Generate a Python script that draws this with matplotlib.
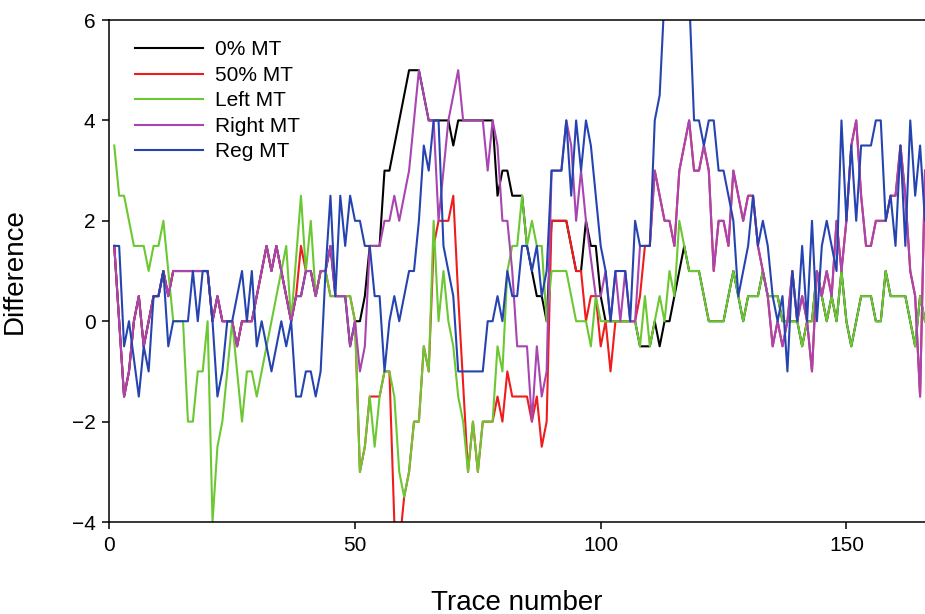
import matplotlib
matplotlib.use('Agg')
import matplotlib.pyplot as plt
import numpy as np

plt.rcParams['font.family'] = ['Liberation Sans', 'DejaVu Sans']

# trace numbers 1..166
trace = list(range(1, 167))

# 0% MT (black)
mt0 = [1.5, 0, -1.5, -1.0, 0, 0.5, -0.5, 0, 0.5, 0.5,
       1.0, 0.5, 1.0, 1.0, 1.0, 1.0, 1.0, 1.0, 1.0, 1.0,
       0, 0.5, 0, 0, 0, -0.5, 0, 0, 0, 0.5,
       1.0, 1.5, 1.0, 1.5, 1.0, 0.5, 0, 0.5, 0.5, 1.0,
       1.0, 0.5, 1.0, 1.0, 1.5, 0.5, 0.5, 0.5, -0.5, 0,
       0, 0.5, 1.5, 1.5, 1.5, 3.0, 3.0, 3.5, 4.0, 4.5,
       5.0, 5.0, 5.0, 4.5, 4.0, 4.0, 4.0, 4.0, 4.0, 3.5,
       4.0, 4.0, 4.0, 4.0, 4.0, 4.0, 4.0, 4.0, 2.5, 3.0,
       3.0, 2.5, 2.5, 2.5, 1.5, 1.0, 0.5, 0.5, 0, 2.0,
       2.0, 2.0, 2.0, 1.5, 1.0, 1.0, 2.0, 1.5, 1.5, 0.5,
       0, 0, 0, 0, 0, 0, 0, -0.5, -0.5, -0.5,
       0, -0.5, 0, 0, 0.5, 1.0, 1.5, 1.0, 1.0, 1.0,
       0.5, 0, 0, 0, 0, 0.5, 1.0, 0.5, 0, 0.5,
       0.5, 0.5, 1.0, 0.5, 0.5, 0.5, 0, 0, 0, 0,
       -0.5, 0, 0, 1.0, 0.5, 0, 0.5, 0, 1.0, 0,
       -0.5, 0, 0.5, 0.5, 0.5, 0, 0, 1.0, 0.5, 0.5,
       0.5, 0.5, 0, -0.5, 0.5, 0]

# 50% MT (red)
mt50 = [1.5, 0, -1.5, -1.0, 0, 0.5, -0.5, 0, 0.5, 0.5,
        1.0, 0.5, 1.0, 1.0, 1.0, 1.0, 1.0, 1.0, 1.0, 1.0,
        0, 0.5, 0, 0, 0, -0.5, 0, 0, 0, 0.5,
        1.0, 1.5, 1.0, 1.5, 1.0, 0.5, 0, 0.5, 1.5, 1.0,
        1.0, 0.5, 1.0, 1.0, 0.5, 0.5, 0.5, 0.5, 0.5, 0,
        -3, -2.5, -1.5, -1.5, -1.5, -1, -1, -4, -4.5, -3.5,
        -3, -2, -2, -0.5, -1, 1.5, 2.0, 2.0, 2.0, 2.5,
        0.5, -1.25, -3, -2, -3, -2, -2, -2, -1.5, -2,
        -1, -1.5, -1.5, -1.5, -1.5, -2, -1.5, -2.5, -2, 2.0,
        2.0, 2.0, 2.0, 1.5, 1.0, 1.0, 0, 0.5, 0.5, -0.5,
        0, -1.0, 0, 0, 0, 0, 0, 0.5, 1.5, 1.5,
        3.0, 2.5, 2.0, 2.0, 1.5, 3.0, 3.5, 4.0, 3.0, 3.0,
        3.5, 3.0, 1.0, 2.0, 2.0, 1.5, 3.0, 2.5, 2.0, 2.5,
        2.5, 1.5, 1.0, 0.5, -0.5, 0, -0.5, 0, 1.0, 0,
        0.5, 0, -1, 1.0, 0.5, 1.0, 0.5, 2.0, 1.0, 2.0,
        3.5, 4.0, 2.5, 1.5, 1.5, 2.0, 2.0, 2.0, 2.5, 2.5,
        3.5, 2.5, 1.0, 0.5, -1.5, 3.0]

# Left MT (green)
left = [3.5, 2.5, 2.5, 2.0, 1.5, 1.5, 1.5, 1.0, 1.5, 1.5,
        2.0, 1.0, 0, 0, 0, -2, -2, -1, -1, 0,
        -4, -2.5, -2, -1, 0, -1, -2, -1, -1, -1.5,
        -1, -0.5, 0, 0.5, 1.0, 1.5, 0, 1.25, 2.5, 1.0,
        2.0, 0.5, 1.0, 1.0, 0.5, 0.5, 0.5, 0.5, 0.5, 0,
        -3, -2.5, -1.5, -2.5, -1.5, -1, -1, -1.5, -3, -3.5,
        -3, -2, -2, -0.5, -1, 2.0, 0, 1.0, 0, -0.5,
        -1.5, -2, -3, -2, -3, -2, -2, -2, -0.5, -1,
        1.0, 1.5, 1.5, 2.5, 1.5, 2.0, 1.5, 1.5, 0, 1.0,
        1.0, 1.0, 1.0, 0.5, 0, 0, 0, -0.5, 0.5, 0,
        0, 0, 0, 0, 0, 0, 0, -0.5, 0.5, -0.5,
        0, 0.5, 0, 1.0, 0.5, 2.0, 1.5, 1.0, 1.0, 1.0,
        0.5, 0, 0, 0, 0, 0.5, 1.0, 0.5, 0, 0.5,
        0.5, 0.5, 1.0, 0.5, 0.5, 0.5, 0, 0, 0, 0,
        -0.5, 0, 0, 1.0, 0.5, 0, 0.5, 0, 1.0, 0,
        -0.5, 0, 0.5, 0.5, 0.5, 0, 0, 1.0, 0.5, 0.5,
        0.5, 0.5, 0, -0.5, 0.5, 0]

# Right MT (purple)
right = [1.5, 0, -1.5, -1.0, 0, 0.5, -0.5, 0, 0.5, 0.5,
         1.0, 0.5, 1.0, 1.0, 1.0, 1.0, 1.0, 1.0, 1.0, 1.0,
         0, 0.5, 0, 0, 0, -0.5, 0, 0, 0, 0.5,
         1.0, 1.5, 1.0, 1.5, 1.0, 0.5, 0, 0.5, 0.5, 1.0,
         1.0, 0.5, 1.0, 1.0, 1.5, 0.5, 0.5, 0.5, -0.5, 0,
         -1, -0.5, 1.5, 1.5, 1.5, 2.0, 2.0, 2.5, 2.0, 2.5,
         3.0, 4.0, 5.0, 4.5, 4.0, 4.0, 2.0, 3.0, 4.0, 4.5,
         5.0, 4.0, 4.0, 4.0, 4.0, 4.0, 3.0, 4.0, 3.5, 2.0,
         2.0, 1.0, -0.5, -0.5, -0.5, -2.0, -0.5, -1.5, -1.0, 3.0,
         3.0, 3.0, 4.0, 3.5, 2.0, 3.0, 2.0, 1.25, 0.5, 0.5,
         1.0, 0, 1.0, 0, 1.0, 0, 0, 1.5, 1.5, 1.5,
         3.0, 2.5, 2.0, 2.0, 1.5, 3.0, 3.5, 4.0, 3.0, 3.0,
         3.5, 3.0, 1.0, 2.0, 2.0, 1.5, 3.0, 2.5, 2.0, 2.5,
         2.5, 1.5, 1.0, 0.5, -0.5, 0, -0.5, 0, 1.0, 0,
         0.5, 0, -1, 1.0, 0.5, 1.0, 0.5, 2.0, 1.0, 2.0,
         3.5, 4.0, 2.5, 1.5, 1.5, 2.0, 2.0, 2.0, 2.5, 2.5,
         3.5, 2.5, 1.0, 0.5, -1.5, 3.0]

# Reg MT (blue)
reg = [1.5, 1.5, -0.5, 0, -0.75, -1.5, -0.5, -1, 0.5, 0.5,
       1.0, -0.5, 0, 0, 0, 0, 1.0, 0, 1.0, 1.0,
       0, -1.5, -1, 0, 0, 0.5, 1.0, 0, 1.0, -0.5,
       0, -0.5, -1, -0.5, 0, -0.5, 0, -1.5, -1.5, -1,
       -1, -1.5, -1, 1.0, 2.5, 0.5, 2.5, 1.5, 2.5, 2.0,
       2.0, 1.5, 1.5, 0.5, 0.5, -1, 0, 0.5, 0, 0.5,
       1.0, 1.0, 2.0, 3.5, 3.0, 4.0, 4.0, 1.5, 1.0, 0.5,
       -1, -1, -1, -1, -1, -1, 0, 0, 0.5, 0,
       1.0, 0.5, 0.5, 1.5, 1.5, 1.0, 1.5, 0.5, 1.0, 3.0,
       3.0, 3.0, 4.0, 2.5, 4.0, 3.0, 4.0, 3.5, 2.5, 1.5,
       1.0, 0, 1.0, 1.0, 1.0, 0, 2.0, 1.5, 1.5, 1.5,
       4.0, 4.5, 6.5, 7.0, 7.0, 7.0, 7.0, 6.5, 4.0, 4.0,
       3.5, 4.0, 4.0, 3.0, 3.0, 2.5, 2.0, 0.5, 1.0, 1.5,
       2.5, 1.5, 2.0, 1.5, 0.5, 0, 0.5, -1, 1.0, 0,
       1.5, 0, 2.0, 0, 1.5, 2.0, 1.5, 1.0, 4.0, 2.0,
       3.5, 2.0, 3.5, 3.5, 3.5, 4.0, 4.0, 2.0, 2.5, 1.5,
       3.5, 1.5, 4.0, 2.5, 3.5, 2.0]

labels = ['0% MT', '50% MT', 'Left MT', 'Right MT', 'Reg MT']
colors = ['#000000', '#ee1c1c', '#6cc832', '#a845b0', '#2544b0']
series = [mt0, mt50, left, right, reg]

fig = plt.figure(figsize=(9.25, 6.14), dpi=100)
ax = fig.add_axes([0.1182, 0.1498, 0.8818, 0.8176])

for s, c, lab in zip(series, colors, labels):
    ax.plot(trace, s, color=c, lw=1.5, label=lab)

ax.set_xlim(0, 166)
ax.set_ylim(-4, 6)
ax.set_xticks([0, 50, 100, 150])
ax.set_yticks([-4, -2, 0, 2, 4, 6])
ax.tick_params(direction='out', length=5, width=1.1, labelsize=15, pad=5)
for sp in ['left', 'bottom', 'top']:
    ax.spines[sp].set_linewidth(1.1)
ax.spines['right'].set_visible(False)

ax.set_xlabel('Trace number', fontsize=20)
ax.set_ylabel('Difference', fontsize=20)
ax.xaxis.set_label_coords(0.5, -0.135)
ax.yaxis.set_label_coords(-0.1, 0.5)

ax.legend(loc='upper left', bbox_to_anchor=(0.0263, 0.9675), frameon=False,
          fontsize=15, handlelength=3.27, handletextpad=0.58, labelspacing=0.31,
          borderaxespad=0, borderpad=0.2)

fig.savefig('out.png', dpi=100)
